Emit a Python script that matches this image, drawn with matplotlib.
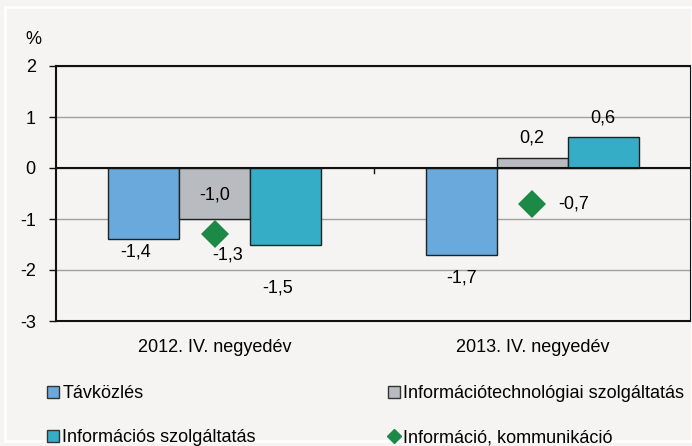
import numpy as np
import matplotlib
matplotlib.use('Agg')
import matplotlib.pyplot as plt
from matplotlib.lines import Line2D
from matplotlib.patches import Rectangle

plt.rcParams['font.family'] = ['Liberation Sans', 'DejaVu Sans']
FS = 13

#%% Data
categories = ['2012. IV. negyedév', '2013. IV. negyedév']
tavkozles = [-1.4, -1.7]
infotech = [-1.0, 0.2]
infoszolg = [-1.5, 0.6]
info_komm = [-1.3, -0.7]
series_names = ['Távközlés', 'Információtechnológiai szolgáltatás',
                'Információs szolgáltatás', 'Információ, kommunikáció']

# label offsets in points (dx, dy) relative to the value point
lbl_tav = [(-6, -9), (0, -17)]
lbl_it = [(0, 17), (0, 14)]
lbl_isz = [(-6, -31), (0, 14)]
lbl_ik = [(9, -15), (30, 0)]

c_blue = '#6aa9dc'
c_gray = '#b8bcc0'
c_teal = '#36adc6'
c_green = '#1c8a46'
bg = '#f5f4f2'

#%% Plot
fig = plt.figure(figsize=(6.92, 4.46), dpi=100, facecolor=bg)
fig.patches.append(Rectangle((5/692, 5/446), 1 - 5/692, 1 - 12/446,
                             transform=fig.transFigure, fill=False,
                             edgecolor='white', linewidth=2))
ax = fig.add_axes([56/692, 125/446, 635/692, 255/446], facecolor=bg)

x = np.arange(len(categories))
w = 0.2233
ax.bar(x - w, tavkozles, w, color=c_blue, edgecolor='#222222', linewidth=1, zorder=3)
ax.bar(x, infotech, w, color=c_gray, edgecolor='#222222', linewidth=1, zorder=3)
ax.bar(x + w, infoszolg, w, color=c_teal, edgecolor='#222222', linewidth=1, zorder=3)
ax.plot(x, info_komm, linestyle='none', marker='D', markersize=14.3,
        color=c_green, markeredgewidth=0, zorder=5)

def fmt(v):
    return ('%.1f' % v).replace('.', ',')

for i in range(len(categories)):
    for xpos, val, off in [(x[i] - w, tavkozles[i], lbl_tav[i]),
                           (x[i], infotech[i], lbl_it[i]),
                           (x[i] + w, infoszolg[i], lbl_isz[i]),
                           (x[i], info_komm[i], lbl_ik[i])]:
        ax.annotate(fmt(val), (xpos, val), xytext=off, textcoords='offset points',
                    ha='center', va='center', fontsize=FS, zorder=6)

ax.set_xlim(-0.5, 1.5)
ax.set_ylim(-3, 2)
ax.set_yticks([-3, -2, -1, 0, 1, 2])
ax.set_yticklabels(['-3', '-2', '-1', '0', '1', '2'], fontsize=FS)
ax.yaxis.grid(True, color='#a0a0a0', linewidth=1, zorder=0)
ax.set_axisbelow(True)
ax.axhline(0, color='#111111', linewidth=1.5, zorder=4)
ax.plot([0.5, 0.5], [0, -0.09], color='#111111', linewidth=1, zorder=4)
ax.tick_params(axis='y', length=5, width=1, pad=9.5, color='#111111')
ax.set_xticks(x)
ax.set_xticklabels(categories, fontsize=FS)
ax.tick_params(axis='x', length=0, pad=13)
for s in ax.spines.values():
    s.set_color('#111111')
    s.set_linewidth(1.5)

fig.text(33/692, 1 - 39/446, '%', fontsize=FS, ha='center', va='center')

handles = [
    Line2D([], [], linestyle='none', marker='s', markersize=8, markerfacecolor=c_blue, markeredgecolor='#333333'),
    Line2D([], [], linestyle='none', marker='s', markersize=8, markerfacecolor=c_teal, markeredgecolor='#333333'),
    Line2D([], [], linestyle='none', marker='s', markersize=8, markerfacecolor=c_gray, markeredgecolor='#333333'),
    Line2D([], [], linestyle='none', marker='D', markersize=7.5, markerfacecolor=c_green, markeredgecolor=c_green),
]
labels = [series_names[0], series_names[2], series_names[1], series_names[3]]
fig.legend(handles, labels, ncol=2, loc='upper left', bbox_to_anchor=(47/692, 1 - 385/446),
           frameon=False, fontsize=FS, handlelength=0.7, handletextpad=0.15,
           columnspacing=7.3, labelspacing=1.5, borderaxespad=0, borderpad=0)

fig.savefig('out.png', dpi=100, facecolor=bg)
